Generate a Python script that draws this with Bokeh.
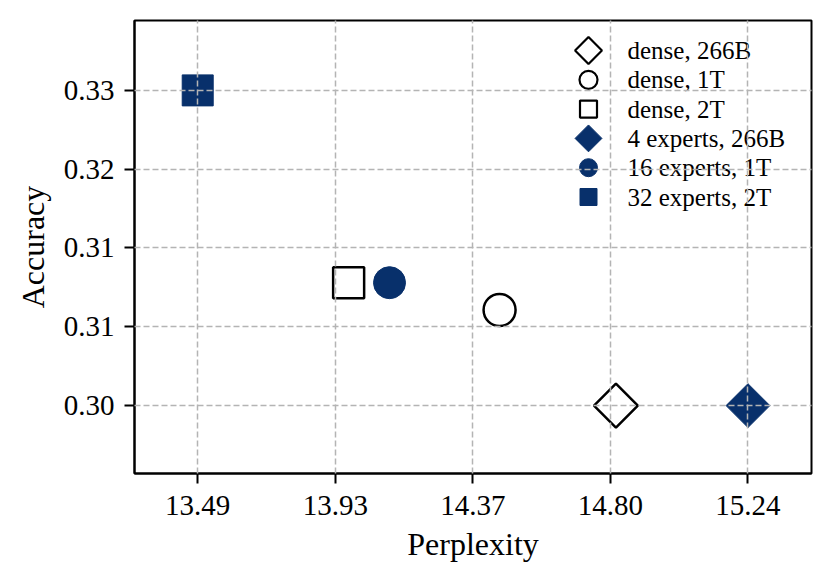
import numpy as np
from bokeh.plotting import figure
from bokeh.models import FixedTicker, Range1d
from bokeh.core.properties import value
from bokeh.embed import file_html
from bokeh.resources import INLINE

# ---- data ----
labels = ["dense, 266B", "dense, 1T", "dense, 2T",
          "4 experts, 266B", "16 experts, 1T", "32 experts, 2T"]
perplexity = [14.82, 14.45, 13.97, 15.24, 14.10, 13.49]
accuracy = [0.3000, 0.3091, 0.3117, 0.3000, 0.3117, 0.3300]

x_tick_labels = ["13.49", "13.93", "14.37", "14.80", "15.24"]
y_tick_labels = ["0.30", "0.31", "0.31", "0.32", "0.33"]

# ---- styles ----
NAVY = "#08306b"
markers = ["square", "circle", "square", "square", "circle", "square"]
angles = [45, 0, 0, 45, 0, 0]
sizes = [31, 32, 31, 31, 32, 31]
legend_sizes = [19, 18, 17, 19, 18, 17]
filled = [False, False, False, True, True, True]

FONT = "Liberation Serif"
FRAME_W, FRAME_H = 677, 453

x_ticks = [float(v) for v in np.linspace(min(perplexity), max(perplexity), len(x_tick_labels))]
y_ticks = [float(v) for v in np.linspace(min(accuracy), max(accuracy), len(y_tick_labels))]

p = figure(width=815, height=566, output_backend="svg", toolbar_location=None,
           x_range=Range1d(13.289, 15.442), y_range=Range1d(0.29354, 0.33665),
           min_border_left=134, min_border_right=4, min_border_top=20,
           min_border_bottom=93)
p.background_fill_color = "white"
p.border_fill_color = "white"
p.outline_line_color = "black"
p.outline_line_width = 2

# pixel-unit ranges for the in-frame legend
p.extra_x_ranges = {"lx": Range1d(0, FRAME_W)}
p.extra_y_ranges = {"ly": Range1d(0, FRAME_H)}
LEG_MARK_X = 454
LEG_TEXT_X = 493
LEG_TOP_Y = 423
LEG_STEP = 29.3

for i in range(len(labels)):
    style = dict(fill_color=NAVY, line_color=NAVY, line_width=1) if filled[i] else \
        dict(fill_color=None, line_color="black", line_width=2.5)
    p.scatter(x=[perplexity[i]], y=[accuracy[i]], marker=markers[i],
              size=sizes[i], angle=angles[i], angle_units="deg", **style)
    # legend entry
    ly = LEG_TOP_Y - i * LEG_STEP
    lstyle = dict(style)
    if not filled[i]:
        lstyle["line_width"] = 2.2
    p.scatter(x=[LEG_MARK_X], y=[ly], marker=markers[i], size=legend_sizes[i],
              angle=angles[i], angle_units="deg",
              x_range_name="lx", y_range_name="ly", **lstyle)
    p.text(x=[LEG_TEXT_X], y=[ly], text=[labels[i]], text_font=value(FONT),
           text_font_size="25px", text_baseline="middle", text_align="left",
           text_color="black", x_range_name="lx", y_range_name="ly")

for ax, ticks, tlabels in ((p.xaxis[0], x_ticks, x_tick_labels),
                           (p.yaxis[0], y_ticks, y_tick_labels)):
    ax.ticker = FixedTicker(ticks=ticks)
    ax.major_label_overrides = {t: l for t, l in zip(ticks, tlabels)}
    ax.axis_line_color = "black"
    ax.axis_line_width = 2
    ax.major_tick_line_color = "black"
    ax.major_tick_line_width = 2
    ax.major_tick_in = 0
    ax.major_tick_out = 10
    ax.minor_tick_line_color = None
    ax.major_label_text_font = FONT
    ax.major_label_text_font_size = "29px"
    ax.major_label_text_color = "black"
    ax.axis_label_text_font = FONT
    ax.axis_label_text_font_size = "32px"
    ax.axis_label_text_font_style = "normal"
    ax.axis_label_text_color = "black"

p.xaxis.axis_label = "Perplexity"
p.yaxis.axis_label = "Accuracy"
p.xaxis.major_label_standoff = 12
p.yaxis.major_label_standoff = 10
p.xaxis.axis_label_standoff = 8
p.yaxis.axis_label_standoff = 10

for g in (p.xgrid[0], p.ygrid[0]):
    g.grid_line_color = "#b4b4b4"
    g.grid_line_width = 1.5
    g.grid_line_dash = "6 3"
    g.level = "guide"

html = file_html(p, INLINE)
open("out.html", "w").write(html)
